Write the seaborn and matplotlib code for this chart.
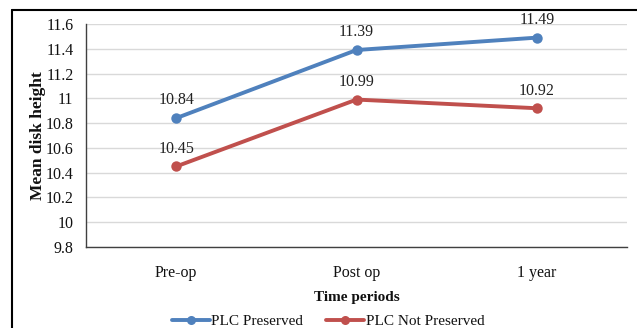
import matplotlib
matplotlib.use("Agg")
import matplotlib.pyplot as plt
import seaborn as sns
import pandas as pd
from matplotlib.lines import Line2D

categories = ["Pre-op", "Post op", "1 year"]
plc_preserved = [10.84, 11.39, 11.49]
plc_not_preserved = [10.45, 10.99, 10.92]
series_names = ["PLC Preserved", "PLC Not Preserved"]
y_ticks = [9.8, 10.0, 10.2, 10.4, 10.6, 10.8, 11.0, 11.2, 11.4, 11.6]
y_tick_labels = ["9.8", "10", "10.2", "10.4", "10.6", "10.8", "11", "11.2", "11.4", "11.6"]

colors = ["#4F81BD", "#C0504D"]

df = pd.DataFrame({
    "period": categories * 2,
    "value": plc_preserved + plc_not_preserved,
    "series": [series_names[0]] * 3 + [series_names[1]] * 3,
})
df["x"] = df["period"].map({c: i for i, c in enumerate(categories)})

sns.set_style("white")
plt.rcParams["font.family"] = ["Liberation Serif", "DejaVu Serif"]
plt.rcParams["text.color"] = "#111111"
plt.rcParams["axes.labelcolor"] = "#111111"
plt.rcParams["xtick.color"] = "#111111"
plt.rcParams["ytick.color"] = "#111111"

fig = plt.figure(figsize=(6.37, 3.28), dpi=100)
W, H = 637, 328
ax = fig.add_axes([86 / W, 1 - 247 / H, (627 - 86) / W, (247 - 24) / H])

sns.lineplot(data=df, x="x", y="value", hue="series", palette=colors,
             marker="o", markersize=7.5, markeredgewidth=0, linewidth=2.8,
             ax=ax, legend=False, sort=False)

for vals, col in zip([plc_preserved, plc_not_preserved], colors):
    for i, v in enumerate(vals):
        ax.annotate(f"{v:.2f}", (i, v), xytext=(0, 7), textcoords="offset points",
                    ha="center", va="bottom", fontsize=11.5, color="#222222")

ax.set_xlim(-0.5, len(categories) - 0.5)
ax.set_ylim(9.8, 11.6)
ax.set_xticks(range(len(categories)))
ax.set_xticklabels(categories, fontsize=11.5)
ax.set_yticks(y_ticks)
ax.set_yticklabels(y_tick_labels, fontsize=11.5)
ax.tick_params(axis="y", length=0, pad=9)
ax.tick_params(axis="x", length=0, pad=13)
ax.yaxis.grid(True, color="#D9D9D9", linewidth=1)
ax.set_axisbelow(True)
for s in ["top", "right"]:
    ax.spines[s].set_visible(False)
for s in ["left", "bottom"]:
    ax.spines[s].set_color("#404040")
    ax.spines[s].set_linewidth(1)

ax.set_xlabel("Time periods", fontsize=11, fontweight="bold", labelpad=7)
ax.set_ylabel("Mean disk height", fontsize=12.5, fontweight="bold", labelpad=0)

# outer frame
fig.add_artist(Line2D([12 / W, 12 / W], [0, 1 - 10 / H], transform=fig.transFigure,
                      color="black", linewidth=1.5))
fig.add_artist(Line2D([12 / W, 1], [1 - 10 / H, 1 - 10 / H], transform=fig.transFigure,
                      color="black", linewidth=1.5))

handles = [Line2D([0], [0], color=c, marker="o", markersize=6.5, linewidth=2.8,
                  markeredgewidth=0) for c in colors]
fig.legend(handles, series_names, loc="center", bbox_to_anchor=(0.515, 1 - 321 / H),
           ncol=2, frameon=False, fontsize=11, handlelength=2.5, handletextpad=0.1,
           columnspacing=1.5, borderpad=0.1)

fig.savefig("out.png", dpi=100)
